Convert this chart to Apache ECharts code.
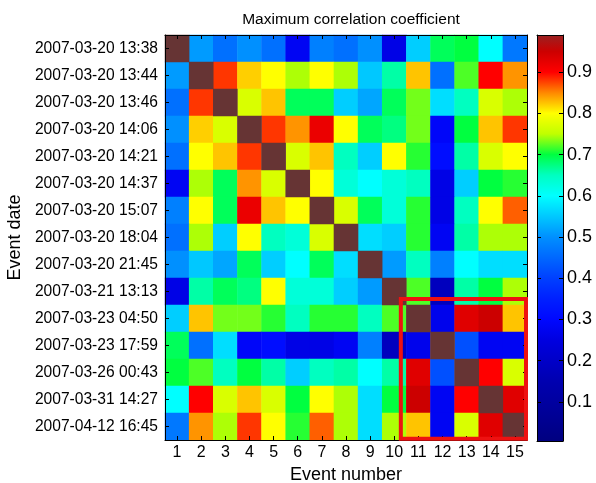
<!DOCTYPE html>
<html>
<head>
<meta charset="utf-8">
<script src="https://cdn.jsdelivr.net/npm/echarts@6/dist/echarts.min.js"></script>
<style>
  html, body { margin: 0; padding: 0; background: #fff; }
  #chart { width: 596px; height: 483px; }
</style>
</head>
<body>
<div id="chart"></div>
<script>
// Event labels (rows) and event numbers (columns)
const eventDates = [
  '2007-03-20 13:38', '2007-03-20 13:44', '2007-03-20 13:46', '2007-03-20 14:06',
  '2007-03-20 14:21', '2007-03-20 14:37', '2007-03-20 15:07', '2007-03-20 18:04',
  '2007-03-20 21:45', '2007-03-21 13:13', '2007-03-23 04:50', '2007-03-23 17:59',
  '2007-03-26 00:43', '2007-03-31 14:27', '2007-04-12 16:45'
];
const eventNumbers = ['1','2','3','4','5','6','7','8','9','10','11','12','13','14','15'];

// Maximum correlation coefficient between every pair of events
const maxCorr = [
  [1.00, 0.51, 0.46, 0.50, 0.46, 0.28, 0.48, 0.46, 0.50, 0.26, 0.555, 0.69, 0.70, 0.60, 0.47],
  [0.51, 1.00, 0.88, 0.82, 0.80, 0.745, 0.80, 0.745, 0.55, 0.66, 0.825, 0.46, 0.72, 0.90, 0.845],
  [0.46, 0.88, 1.00, 0.77, 0.825, 0.69, 0.69, 0.555, 0.52, 0.69, 0.73, 0.57, 0.65, 0.77, 0.745],
  [0.50, 0.82, 0.77, 1.00, 0.88, 0.845, 0.92, 0.80, 0.69, 0.675, 0.73, 0.29, 0.70, 0.825, 0.88],
  [0.46, 0.80, 0.825, 0.88, 1.00, 0.77, 0.825, 0.65, 0.555, 0.80, 0.71, 0.31, 0.66, 0.77, 0.80],
  [0.28, 0.745, 0.69, 0.845, 0.77, 1.00, 0.80, 0.63, 0.60, 0.63, 0.65, 0.26, 0.555, 0.70, 0.71],
  [0.48, 0.80, 0.69, 0.92, 0.825, 0.80, 1.00, 0.77, 0.69, 0.63, 0.71, 0.26, 0.65, 0.80, 0.865],
  [0.46, 0.745, 0.555, 0.80, 0.65, 0.63, 0.77, 1.00, 0.57, 0.555, 0.71, 0.28, 0.66, 0.745, 0.745],
  [0.50, 0.55, 0.52, 0.69, 0.555, 0.60, 0.69, 0.57, 1.00, 0.51, 0.65, 0.48, 0.60, 0.57, 0.57],
  [0.26, 0.66, 0.69, 0.675, 0.80, 0.63, 0.63, 0.555, 0.51, 1.00, 0.72, 0.18, 0.66, 0.70, 0.745],
  [0.555, 0.825, 0.73, 0.73, 0.71, 0.65, 0.71, 0.71, 0.65, 0.72, 1.00, 0.27, 0.93, 0.95, 0.825],
  [0.69, 0.46, 0.57, 0.29, 0.31, 0.26, 0.26, 0.28, 0.48, 0.18, 0.27, 1.00, 0.42, 0.28, 0.28],
  [0.70, 0.72, 0.65, 0.70, 0.66, 0.555, 0.65, 0.66, 0.60, 0.66, 0.93, 0.42, 1.00, 0.90, 0.77],
  [0.60, 0.90, 0.77, 0.825, 0.77, 0.70, 0.80, 0.745, 0.57, 0.70, 0.95, 0.28, 0.90, 1.00, 0.93],
  [0.47, 0.845, 0.745, 0.88, 0.80, 0.71, 0.865, 0.745, 0.57, 0.745, 0.825, 0.28, 0.77, 0.93, 1.00]
];

// Colormap: evenly spaced stops from 0 to 1
const cmapColors = [
  '#000080', '#000090', '#0000a0', '#0000b0', '#0000c8', '#0000e0', '#0008ff',
  '#0020ff', '#0040ff', '#0068ff', '#0090ff', '#00c8ff', '#00ffff', '#00ffc0',
  '#00ff40', '#c0ff00', '#ffff00', '#ff8800', '#ff0000', '#cc0000', '#992222'
];
const colorbarRange = [0.005, 0.99];
const colorbarTicks = [0.1, 0.2, 0.3, 0.4, 0.5, 0.6, 0.7, 0.8, 0.9];

// Highlighted block of events 11-15
const highlightBlock = ['11', '15'];

const FONT = '"Liberation Sans", Arial, sans-serif';

// Split matrix into off-diagonal cells (colour-mapped) and self-correlation cells
const cells = [];
const selfCells = [];
maxCorr.forEach((row, i) => {
  row.forEach((v, j) => {
    if (i === j) selfCells.push([j, i, v]);
    else cells.push([j, i, v]);
  });
});

// Gradient for the colour bar, using the same stops as the cell colouring
const stops = cmapColors.map((c, k) => {
  const v = k / (cmapColors.length - 1);
  let off = (v - colorbarRange[0]) / (colorbarRange[1] - colorbarRange[0]);
  off = Math.max(0, Math.min(1, off));
  return { offset: off, color: c };
});

const hiFrom = eventNumbers.indexOf(highlightBlock[0]);
const hiTo = eventNumbers.indexOf(highlightBlock[1]);

const chart = echarts.init(document.getElementById('chart'), null, { renderer: 'canvas' });

const axisLineStyle = { color: '#000', width: 1 };

chart.setOption({
  animation: false,
  backgroundColor: '#fff',
  textStyle: { fontFamily: FONT },
  title: {
    text: 'Maximum correlation coefficient',
    left: 346, top: 7, textAlign: 'center',
    textStyle: { fontFamily: FONT, fontSize: 15.5, fontWeight: 'normal', color: '#000' }
  },
  grid: [
    { left: 165, top: 35, width: 362, height: 405, outerBoundsMode: 'none', containLabel: false },
    { left: 537, top: 35, width: 26, height: 406, outerBoundsMode: 'none', containLabel: false }
  ],
  xAxis: [
    {
      type: 'category', gridIndex: 0, data: eventNumbers, position: 'bottom', z: 10,
      name: 'Event number', nameLocation: 'middle', nameGap: 26,
      nameTextStyle: { fontFamily: FONT, fontSize: 18, color: '#000' },
      axisLine: { show: true, lineStyle: axisLineStyle },
      axisTick: { show: true, inside: true, alignWithLabel: true, length: 4, lineStyle: axisLineStyle },
      axisLabel: { fontFamily: FONT, fontSize: 16, color: '#000', margin: 5 },
      splitLine: { show: false }
    },
    {
      type: 'category', gridIndex: 0, data: eventNumbers, position: 'top', z: 10,
      axisLine: { show: true, lineStyle: axisLineStyle },
      axisTick: { show: true, inside: true, alignWithLabel: true, length: 4, lineStyle: axisLineStyle },
      axisLabel: { show: false }, splitLine: { show: false }
    },
    {
      type: 'category', gridIndex: 1, data: ['c'], position: 'bottom', z: 10,
      axisLine: { show: true, lineStyle: axisLineStyle },
      axisTick: { show: false }, axisLabel: { show: false }, splitLine: { show: false }
    },
    {
      type: 'category', gridIndex: 1, data: ['c'], position: 'top', z: 10,
      axisLine: { show: true, lineStyle: axisLineStyle },
      axisTick: { show: false }, axisLabel: { show: false }, splitLine: { show: false }
    }
  ],
  yAxis: [
    {
      type: 'category', gridIndex: 0, data: eventDates, inverse: true, position: 'left', z: 10,
      name: 'Event date', nameLocation: 'middle', nameGap: 131, nameRotate: 90,
      nameTextStyle: { fontFamily: FONT, fontSize: 18, color: '#000' },
      axisLine: { show: true, lineStyle: axisLineStyle },
      axisTick: { show: true, inside: true, alignWithLabel: true, length: 4, lineStyle: axisLineStyle },
      axisLabel: { fontFamily: FONT, fontSize: 15.6, color: '#000', margin: 7 },
      splitLine: { show: false }
    },
    {
      type: 'category', gridIndex: 0, data: eventDates, inverse: true, position: 'right', z: 10,
      axisLine: { show: true, lineStyle: axisLineStyle },
      axisTick: { show: true, inside: true, alignWithLabel: true, length: 4, lineStyle: axisLineStyle },
      axisLabel: { show: false }, splitLine: { show: false }
    },
    {
      type: 'value', gridIndex: 1, position: 'right', z: 10,
      min: colorbarRange[0], max: colorbarRange[1],
      axisLine: { show: true, lineStyle: axisLineStyle },
      axisTick: { show: true, inside: true, length: 4, customValues: colorbarTicks, lineStyle: axisLineStyle },
      axisLabel: { show: true, customValues: colorbarTicks, fontFamily: FONT, fontSize: 18, color: '#000', margin: 4,
        formatter: v => String(Math.round(v * 10) / 10) },
      splitLine: { show: false }
    },
    {
      type: 'value', gridIndex: 1, position: 'left', z: 10,
      min: colorbarRange[0], max: colorbarRange[1],
      axisLine: { show: true, lineStyle: axisLineStyle },
      axisTick: { show: true, inside: true, length: 4, customValues: colorbarTicks, lineStyle: axisLineStyle },
      axisLabel: { show: false }, splitLine: { show: false }
    }
  ],
  visualMap: {
    type: 'continuous', show: false, min: 0, max: 1, dimension: 2, seriesIndex: 0,
    inRange: { color: cmapColors }
  },
  series: [
    {
      type: 'heatmap', xAxisIndex: 0, yAxisIndex: 0, data: cells,
      itemStyle: { borderWidth: 0 }, emphasis: { disabled: true }
    },
    {
      type: 'heatmap', xAxisIndex: 0, yAxisIndex: 0, data: selfCells,
      itemStyle: { color: '#663434', borderWidth: 0 }, emphasis: { disabled: true }
    },
    {
      // colour bar
      type: 'bar', xAxisIndex: 2, yAxisIndex: 2, barWidth: '100%',
      data: [colorbarRange[1]],
      itemStyle: { color: new echarts.graphic.LinearGradient(0, 1, 0, 0, stops) },
      emphasis: { disabled: true }, silent: true
    },
    {
      // outline around the highlighted block of events
      type: 'custom', xAxisIndex: 0, yAxisIndex: 0, z: 20, clip: false, silent: true,
      data: [[hiFrom, hiFrom, hiTo, hiTo]],
      encode: { x: [0, 2], y: [1, 3] },
      renderItem: (params, api) => {
        const p0 = api.coord([api.value(0), api.value(1)]);
        const p1 = api.coord([api.value(2), api.value(3)]);
        const band = api.size([1, 1]);
        const x0 = p0[0] - band[0] / 2 - 5.5;
        const y0 = p0[1] - band[1] / 2 - 6;
        const x1 = p1[0] + band[0] / 2 - 1;
        const y1 = p1[1] + band[1] / 2 - 1.3;
        return {
          type: 'rect',
          shape: { x: x0, y: y0, width: x1 - x0, height: y1 - y0 },
          style: { fill: null, stroke: '#ee1111', lineWidth: 4 }
        };
      }
    }
  ]
});
</script>
</body>
</html>
